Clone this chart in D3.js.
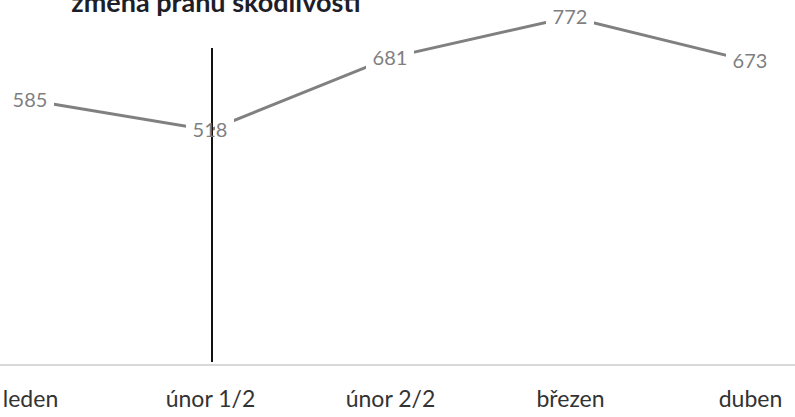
<!DOCTYPE html>
<html>
<head>
<meta charset="utf-8">
<script src="https://cdn.jsdelivr.net/npm/d3@7"></script>
<style>
    body { margin: 0; background: #fff; }
</style>
</head>
<body>
<script>
const months = ["leden", "únor 1/2", "únor 2/2", "březen", "duben"];
const values = [585, 518, 681, 772, 673];
const title = "změna prahu škodlivosti";
const markerAt = "únor 1/2";

let svg = d3
    .select("body")
    .append("svg")
    .attr("width", 795)
    .attr("height", 417);

let x = d3.scalePoint().domain(months).range([30, 750]);
let y = d3.scaleLinear().domain([0, 900]).range([361, -40]);

// title, cut off at the top like in the picture
svg.append("text")
    .attr("x", 216)
    .attr("y", 12)
    .attr("text-anchor", "middle")
    .attr("font-family", "Lato, 'Open Sans', sans-serif")
    .attr("font-size", 27)
    .attr("font-weight", "bold")
    .attr("fill", "#1e1e28")
    .text(title);

// category axis
let axis = svg.append("g")
    .attr("transform", "translate(0,365)")
    .call(d3.axisBottom(x).tickSize(0).tickPadding(26));
axis.select(".domain").remove();
axis.append("line")
    .attr("x1", 0)
    .attr("x2", 795)
    .attr("stroke", "#d9d9d9")
    .attr("stroke-width", 2);
axis.selectAll("text")
    .attr("font-family", "Lato, 'Open Sans', sans-serif")
    .attr("font-size", 23)
    .attr("fill", "#333");

// the series line
let line = d3.line()
    .x((d, i) => x(months[i]))
    .y((d) => y(d));

svg.append("path")
    .datum(values)
    .attr("d", line)
    .attr("fill", "none")
    .attr("stroke", "#808080")
    .attr("stroke-width", 3);

// vertical marker
svg.append("line")
    .attr("x1", x(markerAt) + 2)
    .attr("x2", x(markerAt) + 2)
    .attr("y1", 48)
    .attr("y2", 362)
    .attr("stroke", "#111")
    .attr("stroke-width", 2);

// data labels with white boxes over the line
let labels = svg.append("g")
    .selectAll("g")
    .data(values)
    .join("g")
    .attr("transform", (d, i) => `translate(${x(months[i])},${y(d)})`);

labels.each(function (d, i) {
    let g = d3.select(this);
    if (months[i] != markerAt) {
        g.append("rect")
            .attr("x", -24)
            .attr("y", -12)
            .attr("width", 48)
            .attr("height", 24)
            .attr("fill", "#fff");
    } else {
        g.append("rect")
            .attr("x", -24)
            .attr("y", -12)
            .attr("width", 24)
            .attr("height", 24)
            .attr("fill", "#fff");
        g.append("rect")
            .attr("x", 5)
            .attr("y", -12)
            .attr("width", 19)
            .attr("height", 24)
            .attr("fill", "#fff");
    }
    g.append("text")
        .attr("text-anchor", "middle")
        .attr("dy", "0.35em")
        .attr("font-family", "Lato, 'Open Sans', sans-serif")
        .attr("font-size", 20)
        .attr("fill", "#7f7f7f")
        .text(d);
});
</script>
</body>
</html>
